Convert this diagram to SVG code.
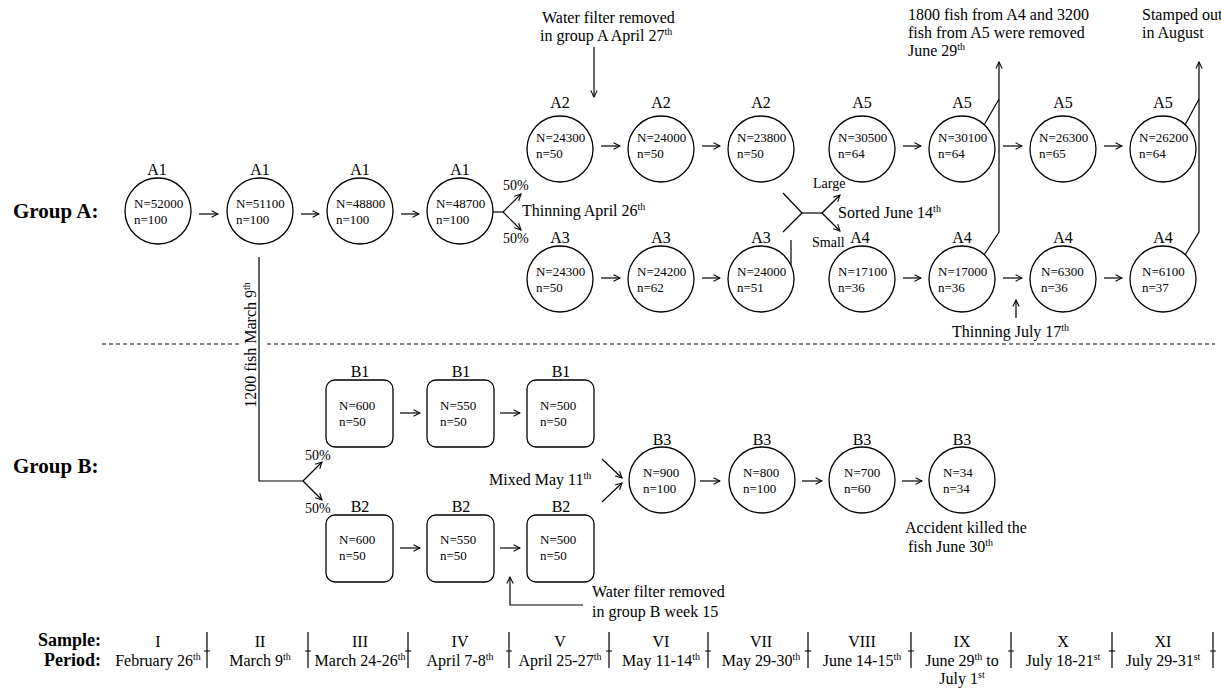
<svg xmlns="http://www.w3.org/2000/svg" width="1221" height="689" viewBox="0 0 1221 689">
<style>
text { font-family: "Liberation Serif", "Times New Roman", serif; fill: #000; }
.nd { font-size: 13px; }
.lb { font-size: 16px; text-anchor: middle; }
.an { font-size: 16px; }
.pc { font-size: 14px; }
.grp { font-size: 21px; font-weight: bold; }
.tl { font-size: 16px; text-anchor: middle; }
.tlh { font-size: 18px; font-weight: bold; text-anchor: end; }
.ln { stroke: #000; stroke-width: 1.2; fill: none; }
.ar { stroke: #000; stroke-width: 1.2; fill: none; marker-end: url(#ah); }
.sh { fill: #fff; stroke: #000; stroke-width: 1.3; }
.dash { stroke: #000; stroke-width: 1; stroke-dasharray: 4 3; fill: none; }
</style>
<defs>
<marker id="ah" viewBox="0 0 10 10" refX="9" refY="5" markerWidth="8" markerHeight="8" orient="auto" markerUnits="userSpaceOnUse">
<path d="M1,1 L9,5 L1,9" fill="none" stroke="#000" stroke-width="1.3"/>
</marker>
</defs>
<rect width="1221" height="689" fill="#fff"/>

<!-- Group titles -->
<text class="grp" x="13" y="218">Group A:</text>
<text class="grp" x="13" y="473">Group B:</text>

<!-- Group A nodes -->
<g id="A1a"><text class="lb" x="157" y="175">A1</text><circle class="sh" cx="158" cy="211" r="33"/><text class="nd" x="134" y="208">N=52000</text><text class="nd" x="134" y="224">n=100</text></g>
<g id="A1b"><text class="lb" x="260" y="175">A1</text><circle class="sh" cx="260" cy="211" r="33"/><text class="nd" x="236" y="208">N=51100</text><text class="nd" x="236" y="224">n=100</text></g>
<g id="A1c"><text class="lb" x="360" y="175">A1</text><circle class="sh" cx="360" cy="211" r="33"/><text class="nd" x="336" y="208">N=48800</text><text class="nd" x="336" y="224">n=100</text></g>
<g id="A1d"><text class="lb" x="460" y="175">A1</text><circle class="sh" cx="460" cy="211" r="33"/><text class="nd" x="436" y="208">N=48700</text><text class="nd" x="436" y="224">n=100</text></g>

<g id="A2a"><text class="lb" x="560" y="108">A2</text><circle class="sh" cx="560" cy="149" r="33"/><text class="nd" x="536" y="142">N=24300</text><text class="nd" x="536" y="158">n=50</text></g>
<g id="A2b"><text class="lb" x="661" y="108">A2</text><circle class="sh" cx="661" cy="149" r="33"/><text class="nd" x="637" y="142">N=24000</text><text class="nd" x="637" y="158">n=50</text></g>
<g id="A2c"><text class="lb" x="761" y="108">A2</text><circle class="sh" cx="761" cy="149" r="33"/><text class="nd" x="737" y="142">N=23800</text><text class="nd" x="737" y="158">n=50</text></g>

<g id="A3a"><text class="lb" x="560" y="243">A3</text><circle class="sh" cx="560" cy="279" r="33"/><text class="nd" x="536" y="276">N=24300</text><text class="nd" x="536" y="292">n=50</text></g>
<g id="A3b"><text class="lb" x="661" y="243">A3</text><circle class="sh" cx="661" cy="279" r="33"/><text class="nd" x="637" y="276">N=24200</text><text class="nd" x="637" y="292">n=62</text></g>
<g id="A3c"><text class="lb" x="761" y="243">A3</text><circle class="sh" cx="761" cy="279" r="33"/><text class="nd" x="737" y="276">N=24000</text><text class="nd" x="737" y="292">n=51</text></g>

<g id="A5a"><text class="lb" x="862" y="108">A5</text><circle class="sh" cx="862" cy="149" r="33"/><text class="nd" x="838" y="142">N=30500</text><text class="nd" x="838" y="158">n=64</text></g>
<g id="A5b"><text class="lb" x="962" y="108">A5</text><circle class="sh" cx="962" cy="149" r="33"/><text class="nd" x="938" y="142">N=30100</text><text class="nd" x="938" y="158">n=64</text></g>
<g id="A5c"><text class="lb" x="1063" y="108">A5</text><circle class="sh" cx="1063" cy="149" r="33"/><text class="nd" x="1039" y="142">N=26300</text><text class="nd" x="1039" y="158">n=65</text></g>
<g id="A5d"><text class="lb" x="1163" y="108">A5</text><circle class="sh" cx="1163" cy="149" r="33"/><text class="nd" x="1139" y="142">N=26200</text><text class="nd" x="1139" y="158">n=64</text></g>

<g id="A4a"><text class="lb" x="860" y="243">A4</text><circle class="sh" cx="862" cy="279" r="33"/><text class="nd" x="838" y="276">N=17100</text><text class="nd" x="838" y="292">n=36</text></g>
<g id="A4b"><text class="lb" x="962" y="243">A4</text><circle class="sh" cx="962" cy="279" r="33"/><text class="nd" x="938" y="276">N=17000</text><text class="nd" x="938" y="292">n=36</text></g>
<g id="A4c"><text class="lb" x="1063" y="243">A4</text><circle class="sh" cx="1063" cy="279" r="33"/><text class="nd" x="1041" y="276">N=6300</text><text class="nd" x="1041" y="292">n=36</text></g>
<g id="A4d"><text class="lb" x="1163" y="243">A4</text><circle class="sh" cx="1163" cy="279" r="33"/><text class="nd" x="1142" y="276">N=6100</text><text class="nd" x="1142" y="292">n=37</text></g>

<!-- Group B nodes -->
<g id="B1a"><text class="lb" x="360" y="377">B1</text><rect class="sh" x="326" y="380" width="67" height="67" rx="9"/><text class="nd" x="339" y="410">N=600</text><text class="nd" x="339" y="426">n=50</text></g>
<g id="B1b"><text class="lb" x="461" y="377">B1</text><rect class="sh" x="427" y="380" width="67" height="67" rx="9"/><text class="nd" x="440" y="410">N=550</text><text class="nd" x="440" y="426">n=50</text></g>
<g id="B1c"><text class="lb" x="561" y="377">B1</text><rect class="sh" x="527" y="380" width="67" height="67" rx="9"/><text class="nd" x="540" y="410">N=500</text><text class="nd" x="540" y="426">n=50</text></g>

<g id="B2a"><text class="lb" x="360" y="512">B2</text><rect class="sh" x="326" y="515" width="67" height="67" rx="9"/><text class="nd" x="339" y="544">N=600</text><text class="nd" x="339" y="560">n=50</text></g>
<g id="B2b"><text class="lb" x="461" y="512">B2</text><rect class="sh" x="427" y="515" width="67" height="67" rx="9"/><text class="nd" x="440" y="544">N=550</text><text class="nd" x="440" y="560">n=50</text></g>
<g id="B2c"><text class="lb" x="561" y="512">B2</text><rect class="sh" x="527" y="515" width="67" height="67" rx="9"/><text class="nd" x="540" y="544">N=500</text><text class="nd" x="540" y="560">n=50</text></g>

<g id="B3a"><text class="lb" x="662" y="445">B3</text><circle class="sh" cx="662" cy="480" r="33"/><text class="nd" x="643" y="477">N=900</text><text class="nd" x="643" y="493">n=100</text></g>
<g id="B3b"><text class="lb" x="762" y="445">B3</text><circle class="sh" cx="762" cy="480" r="33"/><text class="nd" x="743" y="477">N=800</text><text class="nd" x="743" y="493">n=100</text></g>
<g id="B3c"><text class="lb" x="862" y="445">B3</text><circle class="sh" cx="862" cy="480" r="33"/><text class="nd" x="844" y="477">N=700</text><text class="nd" x="844" y="493">n=60</text></g>
<g id="B3d"><text class="lb" x="962" y="445">B3</text><circle class="sh" cx="962" cy="480" r="33"/><text class="nd" x="943" y="477">N=34</text><text class="nd" x="943" y="493">n=34</text></g>

<!-- Connectors -->
<g id="connectors">
<line class="ar" x1="199" y1="214" x2="218" y2="214"/>
<line class="ar" x1="301" y1="214" x2="319" y2="214"/>
<line class="ar" x1="401" y1="214" x2="419" y2="214"/>
<line class="ar" x1="601" y1="146" x2="620" y2="146"/>
<line class="ar" x1="702" y1="146" x2="720" y2="146"/>
<line class="ar" x1="903" y1="146" x2="921" y2="146"/>
<line class="ar" x1="1003" y1="146" x2="1022" y2="146"/>
<line class="ar" x1="1104" y1="146" x2="1122" y2="146"/>
<line class="ar" x1="601" y1="278" x2="620" y2="278"/>
<line class="ar" x1="702" y1="278" x2="720" y2="278"/>
<line class="ar" x1="903" y1="278" x2="921" y2="278"/>
<line class="ar" x1="1003" y1="278" x2="1022" y2="278"/>
<line class="ar" x1="1104" y1="278" x2="1122" y2="278"/>
<!-- thinning split -->
<line class="ln" x1="493" y1="212" x2="503" y2="212"/>
<line class="ar" x1="503" y1="212" x2="521" y2="194"/>
<line class="ar" x1="503" y1="212" x2="521" y2="230"/>
<!-- sort -->
<line class="ln" x1="791" y1="265" x2="791" y2="240"/>
<line class="ln" x1="783" y1="193" x2="802" y2="213"/>
<line class="ln" x1="783" y1="232" x2="802" y2="213"/>
<line class="ln" x1="802" y1="213" x2="822" y2="213"/>
<line class="ar" x1="822" y1="213" x2="840" y2="195"/>
<line class="ar" x1="822" y1="213" x2="840" y2="231"/>
<!-- removed June 29 -->
<path class="ar" d="M984,255 L999,232 L999,62"/>
<line class="ln" x1="984" y1="125" x2="999" y2="99"/>
<!-- stamped out -->
<path class="ar" d="M1185,255 L1199,232 L1199,62"/>
<line class="ln" x1="1185" y1="125" x2="1199" y2="99"/>
<!-- water filter A -->
<line class="ar" x1="594" y1="47" x2="594" y2="97"/>
<!-- thinning July -->
<line class="ar" x1="1016" y1="318" x2="1016" y2="300"/>
<!-- group B split -->
<path class="ln" d="M259,257 L259,481 L303,481"/>
<line class="ar" x1="303" y1="481" x2="322" y2="462"/>
<line class="ar" x1="303" y1="481" x2="322" y2="500"/>
<line class="ar" x1="400" y1="413" x2="420" y2="413"/>
<line class="ar" x1="500" y1="413" x2="520" y2="413"/>
<line class="ar" x1="400" y1="548" x2="420" y2="548"/>
<line class="ar" x1="500" y1="548" x2="520" y2="548"/>
<!-- mixed -->
<line class="ar" x1="602" y1="459" x2="622" y2="478"/>
<line class="ar" x1="602" y1="502" x2="622" y2="483"/>
<line class="ar" x1="700" y1="481" x2="720" y2="481"/>
<line class="ar" x1="802" y1="481" x2="822" y2="481"/>
<line class="ar" x1="902" y1="481" x2="922" y2="481"/>
<!-- water filter B -->
<path class="ar" d="M583,605 L510,605 L510,577"/>
</g>

<!-- separator -->
<line class="dash" x1="102" y1="344" x2="240" y2="344"/>
<line class="dash" x1="267" y1="344" x2="1215" y2="344"/>

<!-- annotations -->
<text class="an" x="542" y="23">Water filter removed</text>
<text class="an" x="540" y="41">in group A April 27<tspan font-size="10" dy="-6">th</tspan></text>
<text class="pc" x="503" y="190">50%</text>
<text class="pc" x="503" y="243">50%</text>
<text class="an" x="522" y="216">Thinning April 26<tspan font-size="10" dy="-6">th</tspan></text>
<text class="pc" x="813" y="188">Large</text>
<text class="pc" x="812" y="247">Small</text>
<text class="an" x="838" y="218">Sorted June 14<tspan font-size="10" dy="-6">th</tspan></text>
<text class="an" x="908" y="20">1800 fish from A4 and 3200</text>
<text class="an" x="908" y="38">fish from A5 were removed</text>
<text class="an" x="908" y="56">June 29<tspan font-size="10" dy="-6">th</tspan></text>
<text class="an" x="1142" y="20">Stamped out</text>
<text class="an" x="1142" y="38">in August</text>
<text class="an" x="952" y="337">Thinning July 17<tspan font-size="10" dy="-6">th</tspan></text>
<text class="an" transform="translate(256,345) rotate(-90)" text-anchor="middle">1200 fish March 9<tspan font-size="10" dy="-6">th</tspan></text>
<text class="pc" x="305" y="460">50%</text>
<text class="pc" x="305" y="513">50%</text>
<text class="an" x="489" y="485">Mixed May 11<tspan font-size="10" dy="-6">th</tspan></text>
<text class="an" x="905" y="533">Accident killed the</text>
<text class="an" x="908" y="552">fish June 30<tspan font-size="10" dy="-6">th</tspan></text>
<text class="an" x="592" y="597">Water filter removed</text>
<text class="an" x="592" y="617">in group B week 15</text>

<!-- timeline -->
<g id="timeline">
<text class="tlh" x="101" y="646">Sample:</text>
<text class="tlh" x="101" y="666">Period:</text>
<text class="tl" x="158" y="647">I</text>
<text class="tl" x="260" y="647">II</text>
<text class="tl" x="360" y="647">III</text>
<text class="tl" x="460" y="647">IV</text>
<text class="tl" x="560" y="647">V</text>
<text class="tl" x="661" y="647">VI</text>
<text class="tl" x="761" y="647">VII</text>
<text class="tl" x="862" y="647">VIII</text>
<text class="tl" x="962" y="647">IX</text>
<text class="tl" x="1063" y="647">X</text>
<text class="tl" x="1163" y="647">XI</text>
<text class="tl" x="158" y="666">February 26<tspan font-size="10" dy="-6">th</tspan></text>
<text class="tl" x="260" y="666">March 9<tspan font-size="10" dy="-6">th</tspan></text>
<text class="tl" x="360" y="666">March 24-26<tspan font-size="10" dy="-6">th</tspan></text>
<text class="tl" x="460" y="666">April 7-8<tspan font-size="10" dy="-6">th</tspan></text>
<text class="tl" x="560" y="666">April 25-27<tspan font-size="10" dy="-6">th</tspan></text>
<text class="tl" x="661" y="666">May 11-14<tspan font-size="10" dy="-6">th</tspan></text>
<text class="tl" x="761" y="666">May 29-30<tspan font-size="10" dy="-6">th</tspan></text>
<text class="tl" x="862" y="666">June 14-15<tspan font-size="10" dy="-6">th</tspan></text>
<text class="tl" x="962" y="666">June 29<tspan font-size="10" dy="-6">th</tspan><tspan dy="6"> to</tspan></text>
<text class="tl" x="962" y="684">July 1<tspan font-size="10" dy="-6">st</tspan></text>
<text class="tl" x="1063" y="666">July 18-21<tspan font-size="10" dy="-6">st</tspan></text>
<text class="tl" x="1163" y="666">July 29-31<tspan font-size="10" dy="-6">st</tspan></text>
<path class="ln" d="M207,632 V668 M204,651 H210 M308,632 V668 M305,651 H311 M408,632 V668 M405,651 H411 M509,632 V668 M506,651 H512 M609,632 V668 M606,651 H612 M708,632 V668 M705,651 H711 M808,632 V668 M805,651 H811 M911,632 V668 M908,651 H914 M1011,632 V668 M1008,651 H1014 M1112,632 V668 M1109,651 H1115 M1213,632 V668 M1210,651 H1216"/>
</g>
</svg>
